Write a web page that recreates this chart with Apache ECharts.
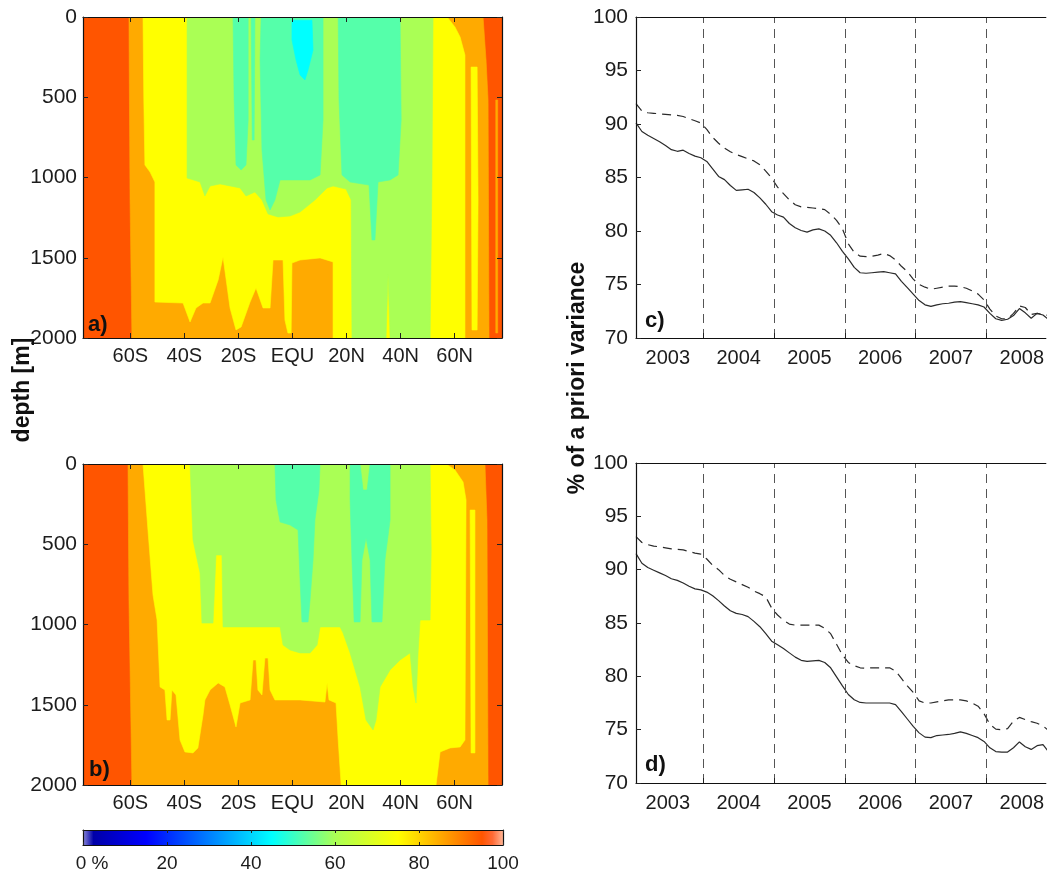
<!DOCTYPE html>
<html><head><meta charset="utf-8">
<script src="https://cdn.jsdelivr.net/npm/echarts@6/dist/echarts.min.js"></script>
<style>html,body{margin:0;padding:0;background:#fff}#c{width:1047px;height:877px}</style>
</head><body><div id="c"></div>
<script>
// ---------- axes / tick labels ----------
const latTicks = [-60, -40, -20, 0, 20, 40, 60];
const latLabels = ['60S', '40S', '20S', 'EQU', '20N', '40N', '60N'];
const depthTicks = [0, 500, 1000, 1500, 2000];
const cbTicks = [0, 20, 40, 60, 80, 100];
const yearBounds = [2004, 2005, 2006, 2007, 2008];
const yearLabelPos = [2003.5, 2004.5, 2005.5, 2006.5, 2007.5, 2008.5];
const varTicks = [70, 75, 80, 85, 90, 95, 100];

// ---------- panel a: contour regions [lat, depth] (value below band limit) ----------
const aFull = [[[-77.5,0],[77.5,0],[77.5,2000],[-77.5,2000]]];
const aBelow90 = [
  [[-60.5,0],[70.5,0],[71.6,268],[72.35,517],[72.7,2000],[-59.4,2000],[-60.1,1140]],
  [[75.2,517],[75.9,517],[75.9,1969],[75.2,1969]]
];
const aBelow80 = [
  [[-55.3,0],[57.2,0],[60.1,62],[62.0,125],[63.8,237],[63.8,2000],[15.0,2000],[15.0,1526],[10.2,1501],[2.8,1514],[-0.2,1533],[-0.5,1969],[-1.7,1969],[-2.8,1888],[-3.5,1514],[-7.2,1514],[-8.3,1813],[-10.9,1813],[-13.5,1688],[-15.7,1776],[-19.0,1931],[-20.9,1950],[-23.1,1813],[-25.7,1495],[-27.5,1638],[-30.5,1782],[-33.1,1782],[-35.7,1813],[-37.9,1900],[-40.5,1782],[-50.9,1776],[-50.9,1028],[-52.7,966],[-54.6,922],[-55.0,517]],
  [[66.06,312],[68.3,312],[68.65,1140],[68.3,1950],[66.4,1950]]
];
const aBelow70 = [
  [[-39.0,0],[52.0,0],[51.6,984],[50.9,2000],[36.1,2000],[35.35,1607],[34.6,2000],[22.0,2000],[21.7,1140],[19.8,1072],[15.0,1053],[12.8,1065],[8.3,1140],[2.8,1215],[-0.9,1240],[-5.35,1246],[-9.05,1227],[-11.3,1140],[-13.9,1090],[-17.2,1115],[-19.4,1065],[-26.8,1040],[-30.5,1053],[-32.4,1115],[-34.2,1028],[-39.0,1003]]
];
const aBelow60 = [
  [[-22.0,0],[-16.4,0],[-16.4,642],[-17.2,922],[-19.0,953],[-20.9,922],[-21.6,517]],
  [[-15.3,0],[-13.9,0],[-14.2,766],[-14.9,766]],
  [[-11.6,0],[11.3,0],[11.3,642],[10.2,984],[6.5,1015],[-4.6,1015],[-6.5,1140],[-8.3,1202],[-9.8,1140],[-11.3,829],[-12.0,268]],
  [[16.9,0],[39.8,0],[40.2,642],[39.05,984],[36.1,1015],[31.65,1028],[30.5,1389],[29.4,1389],[28.3,1047],[21.3,1028],[18.3,984],[17.2,517]]
];
const aBelow50 = [
  [[-0.2,20],[7.2,20],[7.6,206],[5.75,330],[4.6,392],[2.8,361],[1.3,268],[-0.2,143]]
];

// ---------- panel b ----------
const bFull = [[[-77.5,0],[77.5,0],[77.5,2000],[-77.5,2000]]];
const bBelow90 = [
  [[-60.85,0],[71.2,0],[71.95,349],[72.35,2000],[-59.4,2000],[-60.5,847]]
];
const bBelow80 = [
  [[-55.3,0],[56.8,0],[60.1,37],[63.1,112],[64.2,224],[63.8,1720],[62.0,1763],[58.3,1769],[54.6,1794],[53.1,2000],[18.0,2000],[16.9,1720],[16.1,1489],[13.5,1470],[12.8,1364],[12.0,1483],[2.8,1470],[-6.5,1470],[-8.3,1408],[-9.05,1209],[-10.2,1209],[-11.3,1439],[-12.8,1408],[-13.5,1221],[-14.6,1221],[-15.7,1470],[-19.4,1489],[-20.9,1638],[-23.1,1501],[-25.0,1389],[-27.5,1364],[-30.5,1408],[-32.4,1470],[-33.1,1564],[-35.0,1769],[-36.8,1800],[-39.8,1794],[-41.6,1720],[-43.1,1439],[-44.6,1408],[-45.3,1595],[-46.4,1595],[-47.2,1408],[-49.0,1389],[-50.1,972],[-51.6,816],[-53.5,405]],
  [[65.7,287],[67.5,287],[67.5,1800],[66.06,1800]]
];
const bBelow70 = [
  [[-37.9,0],[50.9,0],[51.3,536],[50.9,972],[47.2,972],[46.45,1177],[45.7,1489],[44.6,1389],[43.5,1177],[39.8,1221],[36.1,1283],[32.4,1389],[30.9,1595],[29.8,1657],[27.2,1595],[25.0,1389],[21.3,1177],[18.7,1053],[17.6,1015],[10.2,1015],[9.1,1128],[6.5,1177],[2.8,1177],[-0.9,1159],[-3.5,1128],[-4.6,1015],[-25.7,1015],[-26.1,567],[-28.3,567],[-29.4,991],[-33.5,991],[-34.2,679],[-36.8,473]]
];
const bBelow60 = [
  [[-6.5,0],[10.2,0],[9.8,162],[8.3,349],[7.6,598],[6.5,847],[5.75,984],[3.5,984],[2.8,723],[2.05,411],[-0.9,380],[-4.6,361],[-6.1,224]],
  [[21.3,0],[25.0,0],[26.1,162],[27.6,162],[28.7,0],[36.1,0],[36.1,349],[34.2,598],[33.1,984],[29.4,984],[28.7,598],[27.2,461],[25.7,598],[25.0,984],[22.8,984],[22.0,598],[21.3,224]]
];

// ---------- line panels (monthly values from early 2003) ----------
const cSolid = [90.1,89.3,88.95,88.65,88.35,88.0,87.6,87.45,87.55,87.25,87.0,86.85,86.5,85.8,85.1,84.8,84.25,83.8,83.85,83.9,83.6,83.1,82.5,81.8,81.5,81.3,80.7,80.3,80.05,79.9,80.1,80.2,80.0,79.6,78.9,78.1,77.4,76.6,76.1,76.05,76.1,76.15,76.2,76.1,76.0,75.3,74.7,74.1,73.5,73.1,72.95,73.1,73.2,73.25,73.35,73.4,73.3,73.2,73.1,72.9,72.3,71.8,71.65,71.75,72.1,72.75,72.35,71.85,72.3,72.15,71.7,71.6];
const cDashed = [91.9,91.2,91.05,91.0,90.95,90.9,90.85,90.8,90.7,90.5,90.3,90.1,89.5,88.75,88.2,87.75,87.4,87.15,86.95,86.75,86.55,86.2,85.6,84.95,84.1,83.5,82.9,82.45,82.25,82.2,82.15,82.1,82.0,81.55,81.0,80.2,78.8,78.0,77.65,77.6,77.65,77.75,77.9,77.7,77.3,76.7,76.2,75.5,75.0,74.75,74.55,74.65,74.75,74.85,74.85,74.8,74.65,74.4,74.1,73.55,72.7,72.05,71.8,71.8,72.3,73.0,72.85,72.2,72.3,72.2,72.1,72.0];
const dSolid = [91.5,90.6,90.2,89.95,89.7,89.45,89.15,89.0,88.75,88.45,88.2,88.1,87.9,87.55,87.1,86.6,86.15,85.9,85.8,85.6,85.15,84.65,84.0,83.3,82.95,82.6,82.2,81.8,81.5,81.4,81.45,81.5,81.3,80.8,79.95,79.1,78.3,77.8,77.55,77.5,77.5,77.5,77.5,77.5,77.35,76.7,76.0,75.3,74.7,74.3,74.25,74.45,74.5,74.55,74.65,74.8,74.65,74.45,74.25,73.9,73.3,72.95,72.9,72.9,73.3,73.85,73.4,73.15,73.5,73.6,72.9,72.8];
const dDashed = [93.1,92.55,92.35,92.2,92.15,92.05,91.95,91.9,91.85,91.7,91.55,91.45,91.0,90.4,90.0,89.45,89.1,88.85,88.6,88.35,88.0,87.75,87.45,86.4,85.75,85.25,84.9,84.8,84.8,84.8,84.8,84.8,84.5,84.0,83.0,82.0,81.3,81.0,80.8,80.75,80.8,80.8,80.8,80.8,80.5,79.8,79.1,78.5,77.7,77.5,77.5,77.6,77.7,77.8,77.8,77.8,77.7,77.5,77.2,76.5,75.5,75.05,75.0,75.1,75.8,76.15,75.95,75.75,75.6,75.35,74.9,74.8];
const tStart = 2003.05, tEnd = 2008.84;

// ---------- build ----------
const FONT = 'Liberation Sans';
const INK = '#1c1c1c';
function build(layers) {
  const polys = [], data = [];
  layers.forEach(([band, list]) => list.forEach(p => { data.push([polys.length, band]); polys.push(p); }));
  return { polys, data };
}
const A = build([[95, aFull], [85, aBelow90], [75, aBelow80], [65, aBelow70], [55, aBelow60], [45, aBelow50]]);
const B = build([[95, bFull], [85, bBelow90], [75, bBelow80], [65, bBelow70], [55, bBelow60]]);
const toSeries = arr => arr.map((v, i) => [tStart + i / 12, v]);

function heatSeries(P, xi, yi) {
  return {
    type: 'custom', coordinateSystem: 'cartesian2d', xAxisIndex: xi, yAxisIndex: yi,
    data: P.data, clip: true, silent: true,
    renderItem: (params, api) => {
      const poly = P.polys[api.value(0)];
      const c = api.visual('color');
      return { type: 'polygon', shape: { points: poly.map(p => api.coord(p)) },
               style: { fill: c, stroke: c, lineWidth: 0.6 } };
    }
  };
}
const tickStyle = { inside: true, length: 5, lineStyle: { color: '#222', width: 1 } };
const lineAxis = { onZero: false, lineStyle: { color: '#111', width: 1.2 } };
const lbl = (extra) => Object.assign({ color: INK, fontSize: 20, fontFamily: FONT }, extra || {});

function latAxes(gi) {
  return [
    { gridIndex: gi, type: 'value', min: -77.5, max: 77.5, z: 5, axisLine: lineAxis,
      axisTick: Object.assign({ customValues: latTicks }, tickStyle),
      axisLabel: lbl({ customValues: latTicks, margin: 8, fontSize: 20, formatter: v => latLabels[latTicks.indexOf(v)] }),
      splitLine: { show: false } },
    { gridIndex: gi, type: 'value', position: 'top', min: -77.5, max: 77.5, z: 5, axisLine: lineAxis,
      axisTick: Object.assign({ customValues: latTicks }, tickStyle), axisLabel: { show: false }, splitLine: { show: false } }
  ];
}
function depthAxes(gi) {
  return [
    { gridIndex: gi, type: 'value', position: 'left', min: 0, max: 2000, interval: 500, inverse: true, z: 5, axisLine: lineAxis,
      axisTick: tickStyle, axisLabel: lbl({ margin: 6, fontSize: 21, formatter: v => String(v) }), splitLine: { show: false } },
    { gridIndex: gi, type: 'value', position: 'right', min: 0, max: 2000, interval: 500, inverse: true, z: 5,
      axisLine: lineAxis, axisTick: tickStyle, axisLabel: { show: false }, splitLine: { show: false } }
  ];
}
function yearAxes(gi) {
  return [
    { gridIndex: gi, type: 'value', min: tStart, max: tEnd, z: 5, axisLine: lineAxis,
      axisTick: Object.assign({ customValues: yearBounds }, tickStyle),
      axisLabel: lbl({ customValues: yearLabelPos, margin: 10, formatter: v => String(Math.floor(v)) }),
      splitLine: { show: false } },
    { gridIndex: gi, type: 'value', position: 'top', min: tStart, max: tEnd, z: 5, axisLine: lineAxis,
      axisTick: { show: false }, axisLabel: { show: false }, splitLine: { show: false } }
  ];
}
function varAxis(gi) {
  return { gridIndex: gi, type: 'value', position: 'left', min: 70, max: 100, interval: 5, z: 5, axisLine: lineAxis,
    axisTick: tickStyle, axisLabel: lbl({ margin: 8, fontSize: 21 }), splitLine: { show: false } };
}
const yearMark = {
  symbol: ['none', 'none'], silent: true, animation: false, label: { show: false },
  lineStyle: { type: [9, 6], color: '#555', width: 1 },
  data: yearBounds.map(y => ({ xAxis: y }))
};
function lineSeries(vals, xi, yi, dashed, withMarks) {
  const s = { type: 'line', xAxisIndex: xi, yAxisIndex: yi, data: toSeries(vals), showSymbol: false,
    lineStyle: { color: '#2a2a2a', width: 1.2, type: dashed ? [9, 6] : 'solid' }, silent: true, z: 3 };
  if (withMarks) s.markLine = yearMark;
  return s;
}
const cbStops = [
  [0, '#8a88d8'], [0.025, '#0000a8'], [0.15, '#0000ff'], [0.45, '#00ffff'],
  [0.6, '#aaff55'], [0.75, '#ffff00'], [0.95, '#ff5500'], [0.975, '#ff6a35'], [1, '#ffb494']
];
const cbData = [[0, 100]];

const option = {
  animation: false,
  textStyle: { fontFamily: FONT },
  grid: [
    { left: 83, top: 17, width: 419, height: 321 },
    { left: 83, top: 464, width: 419, height: 321 },
    { left: 83, top: 830, width: 420, height: 15 },
    { left: 636, top: 17, right: 0, height: 321 },
    { left: 636, top: 463, right: 0, height: 320 }
  ],
  xAxis: [
    ...latAxes(0), ...latAxes(1),
    { gridIndex: 2, type: 'value', min: 0, max: 100, interval: 20, z: 5, axisLine: lineAxis,
      axisTick: { inside: true, length: 3, lineStyle: { color: '#222' } },
      axisLabel: lbl({ margin: 9, fontSize: 19, formatter: v => v === 0 ? '{p|}0 %' : String(v),
        rich: { p: { width: 18 } } }), splitLine: { show: false } },
    { gridIndex: 2, type: 'value', position: 'top', min: 0, max: 100, interval: 20, z: 5, axisLine: lineAxis,
      axisTick: { inside: true, length: 3, lineStyle: { color: '#222' } }, axisLabel: { show: false }, splitLine: { show: false } },
    ...yearAxes(3), ...yearAxes(4)
  ],
  yAxis: [
    ...depthAxes(0), ...depthAxes(1),
    { gridIndex: 2, type: 'value', min: 0, max: 1, show: true, z: 5, axisLine: lineAxis, axisTick: { show: false },
      axisLabel: { show: false }, splitLine: { show: false } },
    { gridIndex: 2, type: 'value', position: 'right', min: 0, max: 1, show: true, z: 5, axisLine: lineAxis, axisTick: { show: false },
      axisLabel: { show: false }, splitLine: { show: false } },
    varAxis(3), varAxis(4)
  ],
  visualMap: [{
    type: 'piecewise', show: false, dimension: 1, seriesIndex: [0, 1],
    pieces: [
      { min: 90, max: 100, color: '#ff5500' }, { min: 80, max: 90, color: '#ffaa00' },
      { min: 70, max: 80, color: '#ffff00' }, { min: 60, max: 70, color: '#aaff55' },
      { min: 50, max: 60, color: '#55ffaa' }, { min: 40, max: 50, color: '#00ffff' },
      { min: 30, max: 40, color: '#00aaff' }, { min: 20, max: 30, color: '#0055ff' },
      { min: 10, max: 20, color: '#0000ff' }, { min: 0, max: 10, color: '#0000aa' }
    ]
  }],
  series: [
    heatSeries(A, 0, 0),
    heatSeries(B, 2, 2),
    { type: 'custom', coordinateSystem: 'cartesian2d', xAxisIndex: 4, yAxisIndex: 4, data: cbData, silent: true,
      renderItem: (params, api) => {
        const p0 = api.coord([api.value(0), 0]), p1 = api.coord([api.value(1), 1]);
        return { type: 'rect', shape: { x: p0[0], y: p1[1], width: p1[0] - p0[0], height: p0[1] - p1[1] },
          style: { fill: new echarts.graphic.LinearGradient(0, 0, 1, 0, cbStops.map(s => ({ offset: s[0], color: s[1] }))) } };
      } },
    lineSeries(cSolid, 6, 6, false, true),
    lineSeries(cDashed, 6, 6, true, false),
    lineSeries(dSolid, 8, 7, false, true),
    lineSeries(dDashed, 8, 7, true, false)
  ],
  graphic: [
    { type: 'text', x: 23, y: 390, rotation: Math.PI / 2, z: 10,
      style: { text: 'depth [m]', fontSize: 23, fontWeight: 'bold', fontFamily: FONT, fill: '#111', align: 'center', verticalAlign: 'middle' } },
    { type: 'text', x: 578, y: 378, rotation: Math.PI / 2, z: 10,
      style: { text: '% of a priori variance', fontSize: 23, fontWeight: 'bold', fontFamily: FONT, fill: '#111', align: 'center', verticalAlign: 'middle' } },
    { type: 'text', x: 88, y: 325, z: 10, style: { text: 'a)', fontSize: 22, fontWeight: 'bold', fontFamily: FONT, fill: '#111', verticalAlign: 'middle' } },
    { type: 'text', x: 89, y: 770, z: 10, style: { text: 'b)', fontSize: 22, fontWeight: 'bold', fontFamily: FONT, fill: '#111', verticalAlign: 'middle' } },
    { type: 'text', x: 645, y: 321, z: 10, style: { text: 'c)', fontSize: 22, fontWeight: 'bold', fontFamily: FONT, fill: '#111', verticalAlign: 'middle' } },
    { type: 'text', x: 645, y: 765, z: 10, style: { text: 'd)', fontSize: 22, fontWeight: 'bold', fontFamily: FONT, fill: '#111', verticalAlign: 'middle' } }
  ]
};
const chart = echarts.init(document.getElementById('c'), null, { renderer: 'canvas' });
chart.setOption(option);
</script></body></html>
